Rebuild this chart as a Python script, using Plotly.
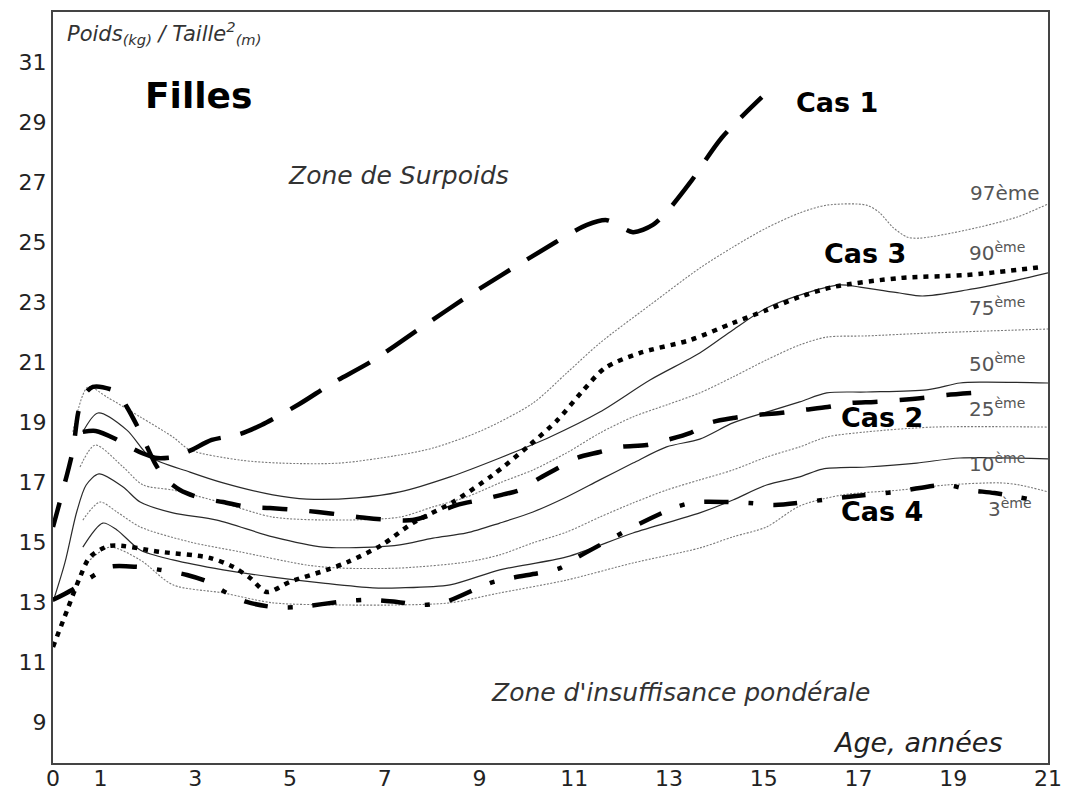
import plotly.graph_objects as go

# ---------------- data ----------------
p97_age = [0.42, 0.74, 1.14, 1.84, 2.53, 2.89, 3.95, 4.79, 6.05, 7.32, 8.02, 9.07, 10.13, 10.84, 11.54, 12.6, 13.65, 14.35, 15.06, 15.76, 16.33, 17.17, 17.45, 17.72, 18.02, 18.29, 19.28, 20.34, 21.0]
p97_val = [18.67, 20.17, 19.83, 19.17, 18.5, 18.07, 17.73, 17.63, 17.63, 17.9, 18.13, 18.73, 19.63, 20.63, 21.63, 22.9, 24.13, 24.83, 25.47, 25.97, 26.23, 26.23, 25.97, 25.5, 25.17, 25.13, 25.4, 25.83, 26.27]

p90_age = [0.63, 0.95, 1.56, 2.05, 2.89, 3.59, 4.64, 5.36, 6.41, 7.32, 8.38, 9.43, 10.49, 11.54, 12.6, 13.65, 14.35, 15.06, 15.76, 16.6, 17.03, 17.87, 18.35, 19.28, 20.34, 21.0]
p90_val = [18.67, 19.3, 18.73, 17.83, 17.33, 16.97, 16.57, 16.43, 16.47, 16.67, 17.17, 17.8, 18.5, 19.33, 20.4, 21.3, 22.07, 22.8, 23.23, 23.57, 23.5, 23.3, 23.2, 23.4, 23.73, 23.97]

p75_age = [0.57, 0.89, 1.48, 1.9, 2.53, 3.59, 4.64, 6.05, 7.32, 8.02, 8.73, 9.43, 10.13, 10.84, 11.54, 12.24, 12.95, 13.65, 14.35, 15.06, 15.76, 16.33, 17.17, 18.57, 21.0]
p75_val = [17.5, 18.23, 17.5, 16.9, 16.73, 16.3, 15.83, 15.73, 15.83, 16.17, 16.5, 16.97, 17.4, 17.97, 18.63, 19.17, 19.57, 19.97, 20.5, 21.07, 21.57, 21.83, 21.87, 21.97, 22.1]

p50_age = [0.0, 0.25, 0.5, 0.7, 0.97, 1.48, 1.84, 2.53, 3.46, 4.64, 5.7, 6.75, 7.32, 8.02, 8.73, 9.43, 10.13, 10.84, 11.54, 12.24, 12.95, 13.65, 14.35, 15.06, 15.76, 16.33, 17.17, 18.44, 19.14, 19.62, 21.0]
p50_val = [13.0, 14.3, 16.0, 16.9, 17.27, 16.83, 16.33, 15.97, 15.73, 15.17, 14.83, 14.83, 14.9, 15.13, 15.3, 15.63, 16.0, 16.5, 17.07, 17.63, 18.17, 18.43, 18.97, 19.33, 19.67, 19.97, 20.0, 20.07, 20.3, 20.33, 20.3]

p25_age = [0.63, 0.99, 1.35, 1.84, 2.89, 3.95, 5.36, 6.05, 7.32, 8.73, 9.43, 10.13, 10.84, 11.54, 12.24, 12.95, 13.65, 14.35, 15.06, 15.76, 16.33, 17.17, 18.57, 21.0]
p25_val = [15.73, 16.33, 16.0, 15.5, 15.0, 14.67, 14.23, 14.13, 14.13, 14.33, 14.57, 14.97, 15.33, 15.83, 16.3, 16.73, 17.07, 17.4, 17.83, 18.17, 18.5, 18.67, 18.83, 18.83]

p10_age = [0.63, 1.05, 1.35, 1.84, 2.53, 3.59, 4.64, 5.7, 6.75, 7.32, 8.38, 9.43, 10.84, 12.24, 13.65, 14.35, 15.06, 15.76, 16.24, 17.17, 18.23, 19.14, 21.0]
p10_val = [14.83, 15.63, 15.4, 14.73, 14.4, 14.07, 13.83, 13.63, 13.47, 13.47, 13.57, 14.07, 14.5, 15.3, 15.97, 16.4, 16.9, 17.17, 17.43, 17.5, 17.63, 17.8, 17.77]

p3_age = [0.78, 1.2, 1.84, 2.53, 3.59, 4.64, 6.05, 7.32, 8.38, 9.43, 10.84, 12.24, 13.65, 14.35, 15.06, 15.76, 16.67, 17.87, 18.86, 19.98, 20.4, 21.0]
p3_val = [14.4, 14.83, 14.4, 13.57, 13.3, 12.97, 12.9, 12.9, 12.97, 13.3, 13.73, 14.3, 14.8, 15.17, 15.5, 16.2, 16.57, 16.73, 16.9, 16.97, 16.9, 16.67]

cas1_age = [0.63, 0.9, 1.3, 1.58, 1.9, 2.2, 2.6, 2.93, 3.35, 3.95, 4.4, 5.2, 5.9, 6.7, 7.7, 8.86, 10.06, 11.27, 11.69, 12.24, 12.66, 12.95, 13.44, 14.11, 14.96]
cas1_val = [18.67, 18.7, 18.45, 18.2, 17.95, 17.8, 17.85, 18.07, 18.4, 18.6, 18.9, 19.6, 20.3, 21.0, 22.07, 23.3, 24.47, 25.57, 25.73, 25.33, 25.57, 26.0, 26.97, 28.47, 29.83]

cas2_age = [0.0, 0.21, 0.42, 0.53, 0.63, 0.84, 1.35, 1.56, 1.84, 2.15, 2.36, 2.68, 3.1, 3.59, 4.09, 4.58, 5.11, 5.59, 6.12, 6.62, 7.15, 7.59, 8.1, 8.52, 9.01, 9.47, 9.85, 10.27, 10.7, 11.05, 11.54, 11.96, 12.53, 12.95, 13.44, 13.86, 14.35, 14.81, 15.34, 15.82, 16.35, 16.81, 17.34, 17.87, 18.35, 18.86, 19.41]
cas2_val = [15.5, 16.73, 18.07, 19.3, 19.83, 20.17, 20.0, 19.5, 18.67, 17.63, 17.13, 16.73, 16.47, 16.33, 16.17, 16.13, 16.07, 16.0, 15.9, 15.8, 15.73, 15.73, 15.97, 16.23, 16.4, 16.57, 16.73, 17.13, 17.5, 17.8, 18.0, 18.17, 18.23, 18.4, 18.63, 18.97, 19.13, 19.23, 19.3, 19.4, 19.5, 19.63, 19.67, 19.73, 19.8, 19.9, 19.97]

cas3_age = [0.0, 0.3, 0.57, 0.78, 1.2, 2.26, 3.31, 3.8, 4.16, 4.51, 5.0, 5.78, 6.22, 6.94, 7.59, 8.44, 9.28, 10.06, 10.65, 11.16, 11.65, 12.38, 13.44, 14.35, 15.06, 15.76, 16.46, 17.87, 19.28, 20.89]
cas3_val = [11.5, 12.73, 13.83, 14.5, 14.87, 14.67, 14.47, 14.17, 13.8, 13.33, 13.67, 14.07, 14.33, 14.9, 15.63, 16.33, 17.23, 18.23, 19.07, 20.0, 20.8, 21.3, 21.73, 22.3, 22.73, 23.17, 23.5, 23.8, 23.9, 24.17]

cas4_age = [0.0, 0.4, 0.78, 1.2, 1.77, 2.26, 2.83, 3.27, 3.67, 4.09, 4.64, 5.15, 6.2, 6.73, 7.26, 7.81, 8.33, 9.22, 9.68, 10.7, 11.05, 11.86, 12.24, 13.16, 13.59, 14.7, 15.23, 16.24, 16.75, 17.8, 18.29, 18.86, 19.35, 19.87, 20.93]
cas4_val = [13.07, 13.4, 13.8, 14.17, 14.17, 14.07, 13.9, 13.67, 13.3, 13.0, 12.83, 12.83, 13.03, 13.07, 13.0, 12.9, 13.03, 13.63, 13.8, 14.13, 14.47, 15.17, 15.5, 16.17, 16.33, 16.3, 16.23, 16.4, 16.5, 16.67, 16.8, 16.9, 16.73, 16.63, 16.33]

x_ticks = [0, 1, 3, 5, 7, 9, 11, 13, 15, 17, 19, 21]
y_ticks = [9, 11, 13, 15, 17, 19, 21, 23, 25, 27, 29, 31]

FONT = "DejaVu Sans"

fig = go.Figure()

def pct(x, y, solid):
    if solid:
        line = dict(color="#2a2a2a", width=1.2, shape="spline", smoothing=0.8)
    else:
        line = dict(color="#7a7a7a", width=1.1, dash="2px,1.5px", shape="spline", smoothing=0.8)
    fig.add_trace(go.Scatter(x=x, y=y, mode="lines", line=line, hoverinfo="skip", showlegend=False))

pct(p97_age, p97_val, False)
pct(p90_age, p90_val, True)
pct(p75_age, p75_val, False)
pct(p50_age, p50_val, True)
pct(p25_age, p25_val, False)
pct(p10_age, p10_val, True)
pct(p3_age, p3_val, False)

def cas(x, y, dash):
    fig.add_trace(go.Scatter(x=x, y=y, mode="lines",
                             line=dict(color="black", width=4.5, dash=dash, shape="spline", smoothing=0.8),
                             hoverinfo="skip", showlegend=False))

cas(cas1_age, cas1_val, "36px,20px")
cas(cas2_age, cas2_val, "25px,22px")
cas(cas3_age, cas3_val, "5px,6px")
cas(cas4_age, cas4_val, "24px,20px,5px,20px")

L, R, T, B = 53, 1048, 12, 763
W, H = 1075, 791

def px(xp, yp):
    return (xp - L) / (R - L), (B - yp) / (B - T)

annots = []
def ann(text, xp, yp, size, color="#333", xanchor="center", bold=False):
    x, y = px(xp, yp)
    if bold:
        text = "<b>" + text + "</b>"
    annots.append(dict(text=text, x=x, y=y, xref="paper", yref="paper", xanchor=xanchor, yanchor="middle",
                       showarrow=False, font=dict(family=FONT, size=size, color=color)))

ann("<i>Poids<sub>(kg)</sub> / Taille<sup>2</sup><sub>(m)</sub></i>", 65, 33, 21, "#333", "left")
ann("Filles", 198, 95, 36, "black", bold=True)
ann("<i>Zone de Surpoids</i>", 398, 175, 25, "#333")
ann("<i>Zone d'insuffisance pondérale</i>", 680, 692, 25, "#333")
ann("<i>Age, années</i>", 917, 742, 27, "#222")
ann("Cas 1", 837, 103, 27, "black", bold=True)
ann("Cas 3", 865, 253, 27, "black", bold=True)
ann("Cas 2", 882, 417, 27, "black", bold=True)
ann("Cas 4", 882, 512, 27, "black", bold=True)
ann("97ème", 1005, 193, 20, "#555")
ann("90<sup>ème</sup>", 997, 252, 20, "#555")
ann("75<sup>ème</sup>", 997, 307, 20, "#555")
ann("50<sup>ème</sup>", 997, 363, 20, "#555")
ann("25<sup>ème</sup>", 997, 408, 20, "#555")
ann("10<sup>ème</sup>", 997, 463, 20, "#555")
ann("3<sup>ème</sup>", 1010, 508, 20, "#555")

fig.update_layout(
    width=W, height=H,
    margin=dict(l=L, r=W - R, t=T, b=H - B, autoexpand=False),
    paper_bgcolor="white", plot_bgcolor="white",
    annotations=annots,
    font=dict(family=FONT),
)
fig.update_xaxes(range=[0, 21], tickmode="array", tickvals=x_ticks, ticks="", showgrid=False, zeroline=False,
                 showline=True, linewidth=2, linecolor="#444", mirror=True, ticklabelstandoff=-5,
                 tickfont=dict(family=FONT, size=22, color="#222"))
fig.update_yaxes(range=[7.63, 32.67], tickmode="array", tickvals=y_ticks, ticks="", showgrid=False, zeroline=False,
                 showline=True, linewidth=2, linecolor="#444", mirror=True,
                 tickfont=dict(family=FONT, size=22, color="#222"))

fig.write_html("out.html")
